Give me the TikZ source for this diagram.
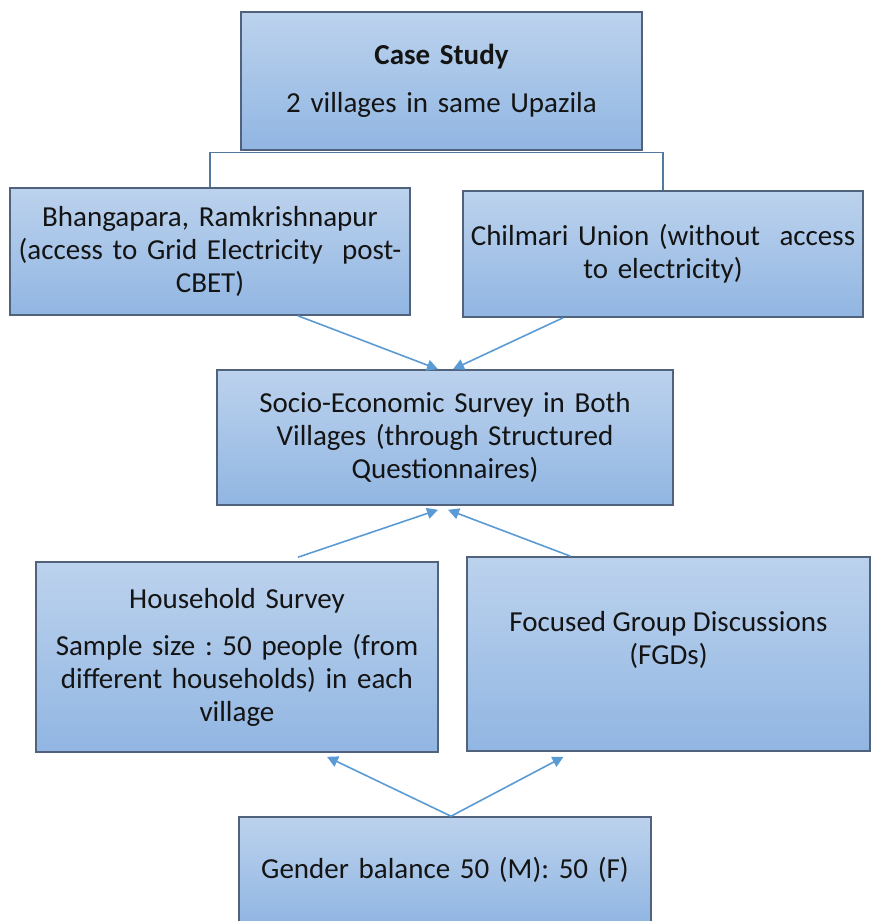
\documentclass[tikz,border=0pt]{standalone}
\usepackage{fontspec}
\setmainfont{Carlito}
\usetikzlibrary{arrows.meta}
\definecolor{boxtop}{RGB}{188,210,237}
\definecolor{boxbottom}{RGB}{145,182,226}
\definecolor{boxedge}{RGB}{80,98,124}
\definecolor{linkblue}{RGB}{91,155,213}
\tikzset{
  stagebox/.style={draw=boxedge, line width=1.6pt, top color=boxtop, bottom color=boxbottom,
    align=center, inner sep=6pt, font=\fontsize{29}{33}\selectfont, text=black!92},
  flowarrow/.style={draw=linkblue, line width=1.6pt, -{Triangle[width=11pt,length=11pt]}}
}
\frenchspacing
\begin{document}
\begin{tikzpicture}[x=1pt,y=-1pt]
  \useasboundingbox (0,0) rectangle (871,921);
  \clip (0,0) rectangle (871,921);
  % boxes
  \node[stagebox, minimum width=401pt, minimum height=138pt, text width=389pt] (case) at (441.5,81)
    {\textbf{Case Study}\\[15pt]2 villages in same Upazila};
  \node[stagebox, minimum width=400pt, minimum height=127pt, text width=388pt] (bhang) at (210,251.5)
    {Bhangapara, Ramkrishnapur\\(access to Grid Electricity\ \ post-\\CBET)};
  \node[stagebox, minimum width=400pt, minimum height=126pt, text width=388pt] (chil) at (663,254)
    {Chilmari Union (without\ \ access\\to electricity)};
  \node[stagebox, minimum width=456pt, minimum height=135pt, text width=444pt] (survey) at (445,437.5)
    {Socio-Economic Survey in Both\\Villages (through Structured\\Questionnaires)};
  \node[stagebox, minimum width=402pt, minimum height=190pt, text width=390pt] (house) at (237,657)
    {Household Survey\\[14pt]Sample size : 50 people (from\\different households) in each\\village};
  \node[stagebox, minimum width=403pt, minimum height=194pt] (fgd) at (668.5,654) {};
  \node[align=center, font=\fontsize{29}{33}\selectfont, text=black!92] (fgdtext) at (668.5,640)
    {Focused Group Discussions\\(FGDs)};
  \node[stagebox, minimum width=412pt, minimum height=106pt, text width=400pt] (gender) at (445,870)
    {Gender balance 50 (M): 50 (F)};
  % connectors
  \draw[boxedge!60!linkblue, line width=1.2pt] (bhang.north) |- ([yshift=-2pt]case.south) -| (chil.north);
  \draw[flowarrow] ([xshift=88pt]bhang.south) -- ([xshift=-7pt]survey.north);
  \draw[flowarrow] ([xshift=-100pt]chil.south) -- ([xshift=8pt]survey.north);
  \draw[flowarrow] ([xshift=61pt,yshift=4pt]house.north) -- ([xshift=-7pt,yshift=-4pt]survey.south);
  \draw[flowarrow] ([xshift=-98pt]fgd.north) -- ([xshift=3pt,yshift=-4pt]survey.south);
  \draw[flowarrow] ([xshift=6pt]gender.north) -- ([xshift=90pt,yshift=-4pt]house.south);
  \draw[flowarrow] ([xshift=6pt]gender.north) -- ([xshift=-105pt,yshift=-5pt]fgd.south);
\end{tikzpicture}
\end{document}
